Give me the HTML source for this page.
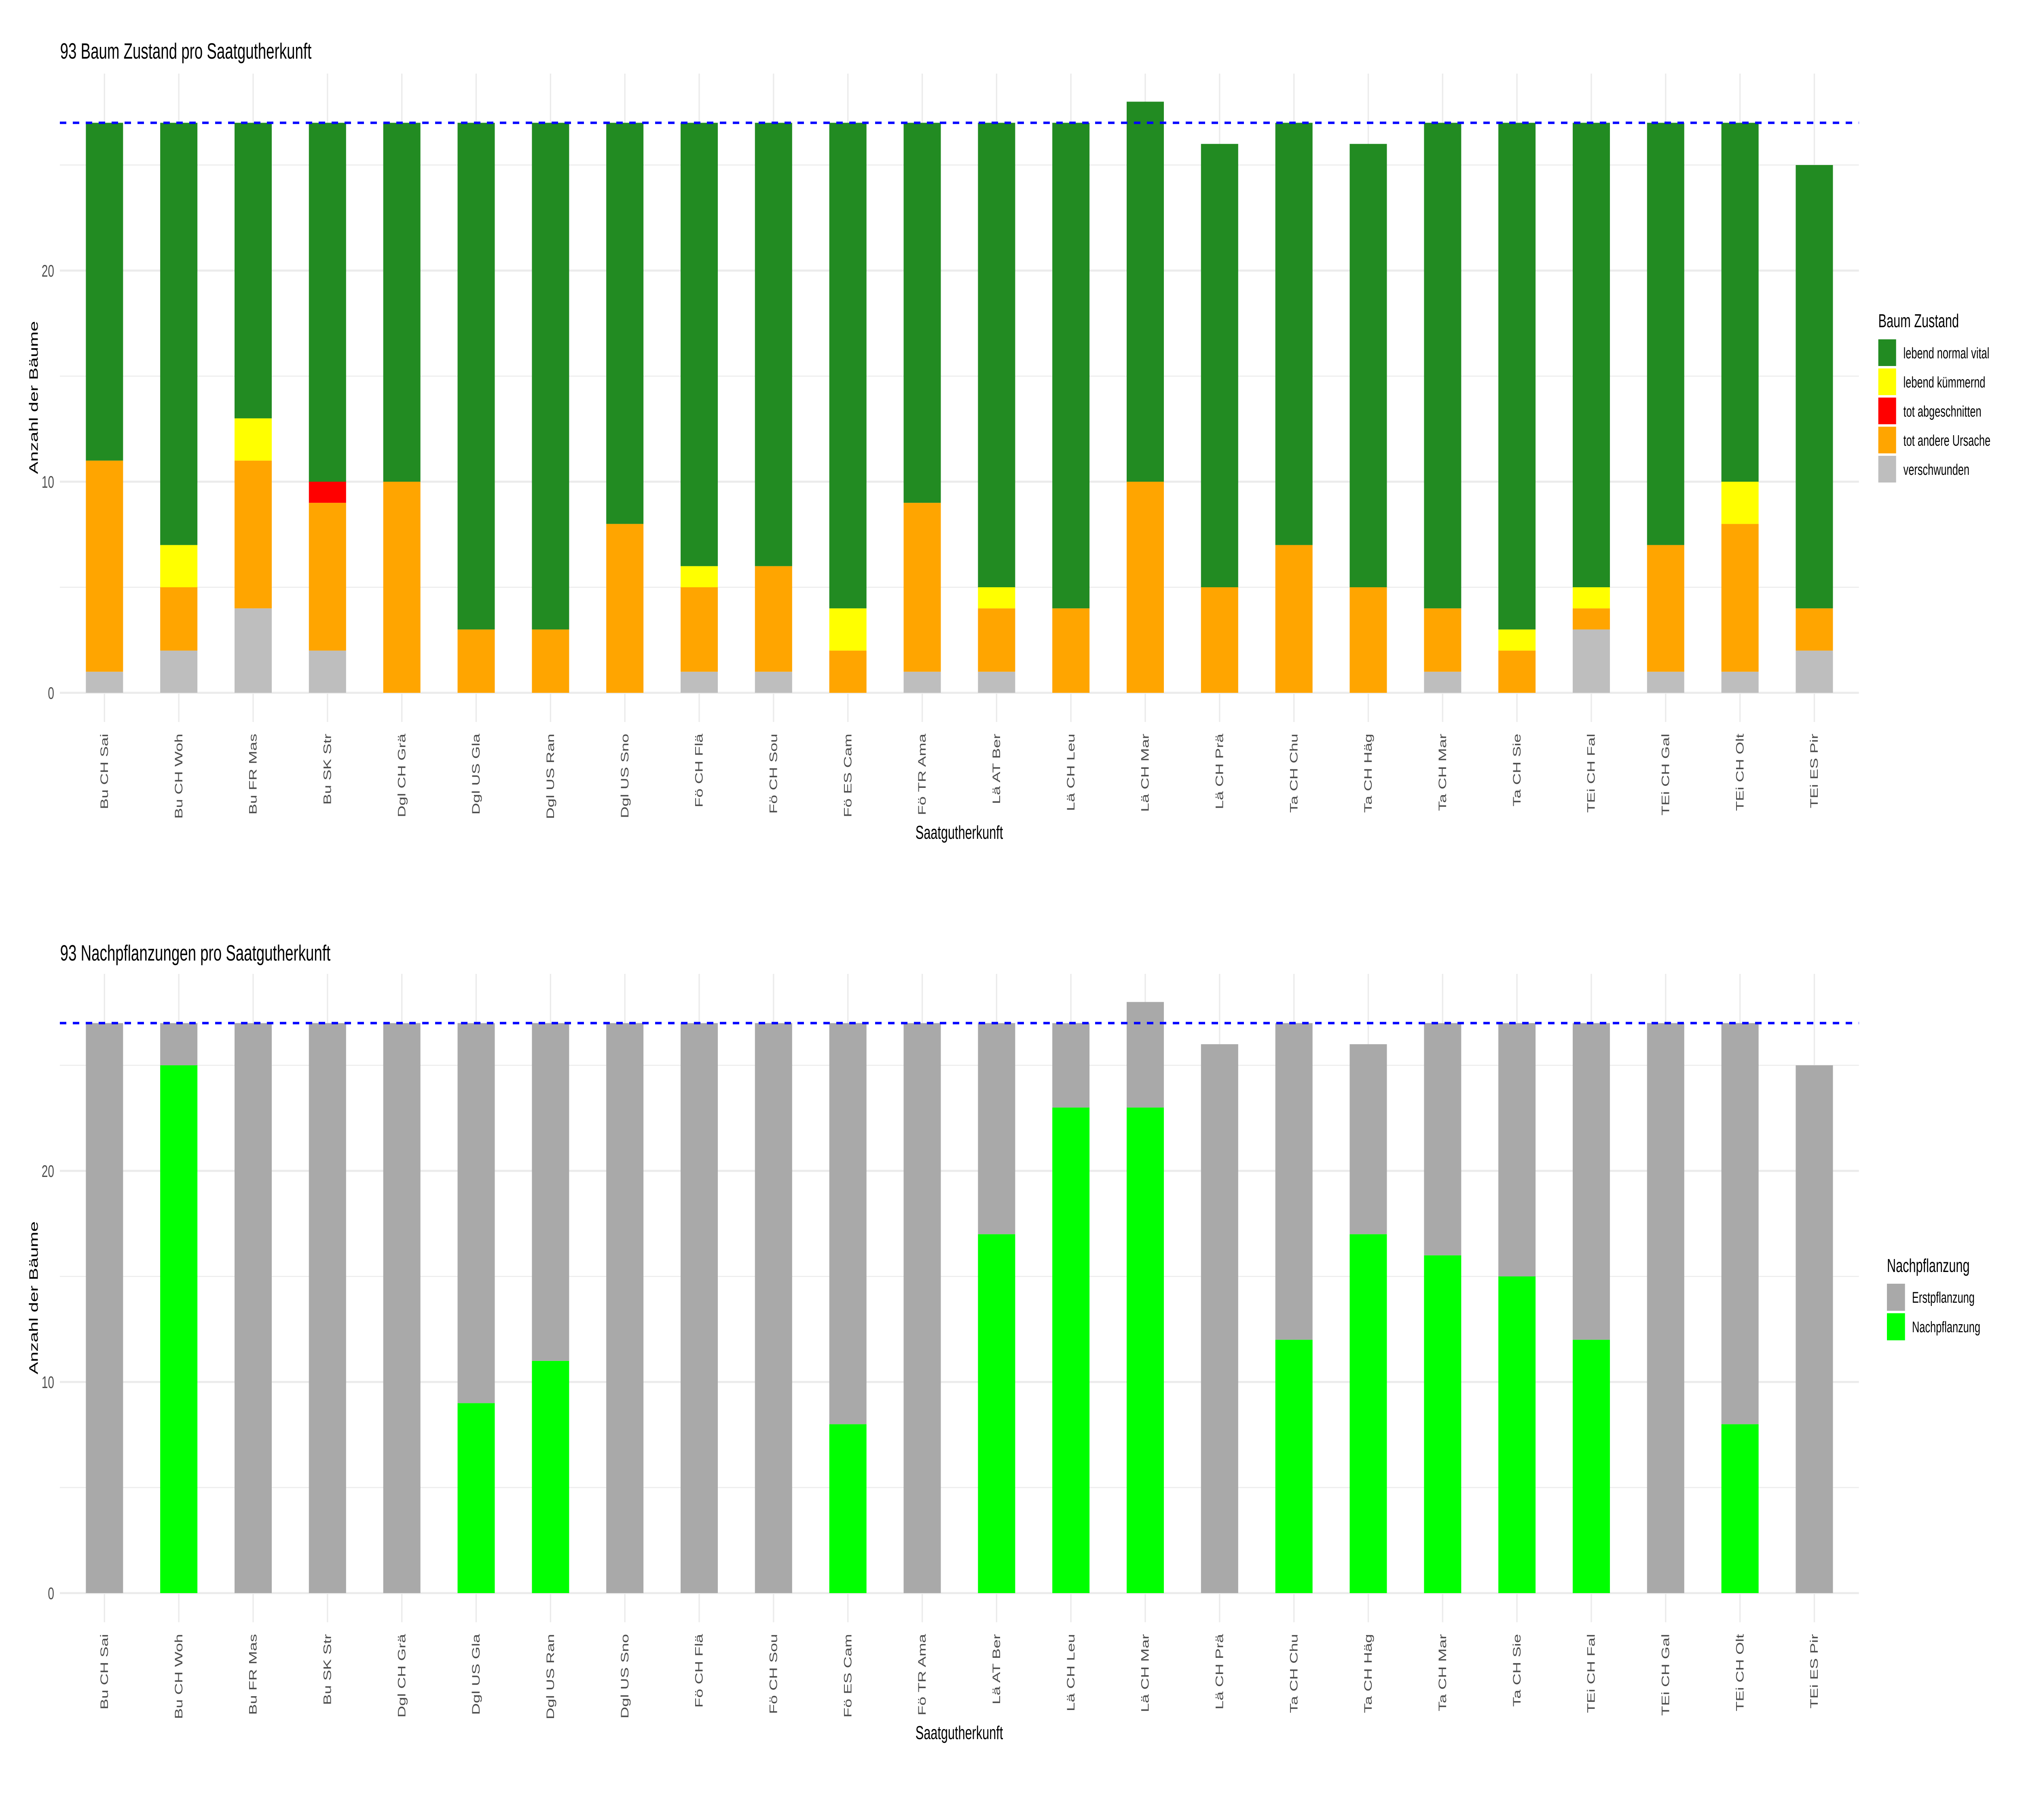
<!DOCTYPE html>
<html><head><meta charset="utf-8"><style>
html,body{margin:0;padding:0;background:#fff;width:100%;height:100%;overflow:hidden}
svg{display:block;width:100vw;height:100vh}
text{font-family:"Liberation Sans",Arial,sans-serif}
</style></head><body>
<svg viewBox="0 0 7500 4500" preserveAspectRatio="none" xmlns="http://www.w3.org/2000/svg">
<defs>
<g id="grid">
  <g stroke="#EBEBEB" stroke-width="2.5">
    <line x1="222" x2="6895" y1="1452" y2="1452"/>
    <line x1="222" x2="6895" y1="930" y2="930"/>
    <line x1="222" x2="6895" y1="408" y2="408"/>
  </g>
  <g stroke="#EBEBEB" stroke-width="5">
    <line x1="222" x2="6895" y1="1713" y2="1713"/>
    <line x1="222" x2="6895" y1="1191" y2="1191"/>
    <line x1="222" x2="6895" y1="669" y2="669"/>
    <line x1="387.5" x2="387.5" y1="182" y2="1785"/>
    <line x1="663.2" x2="663.2" y1="182" y2="1785"/>
    <line x1="939" x2="939" y1="182" y2="1785"/>
    <line x1="1214.7" x2="1214.7" y1="182" y2="1785"/>
    <line x1="1490.5" x2="1490.5" y1="182" y2="1785"/>
    <line x1="1766.2" x2="1766.2" y1="182" y2="1785"/>
    <line x1="2042" x2="2042" y1="182" y2="1785"/>
    <line x1="2317.7" x2="2317.7" y1="182" y2="1785"/>
    <line x1="2593.5" x2="2593.5" y1="182" y2="1785"/>
    <line x1="2869.2" x2="2869.2" y1="182" y2="1785"/>
    <line x1="3145" x2="3145" y1="182" y2="1785"/>
    <line x1="3420.7" x2="3420.7" y1="182" y2="1785"/>
    <line x1="3696.5" x2="3696.5" y1="182" y2="1785"/>
    <line x1="3972.2" x2="3972.2" y1="182" y2="1785"/>
    <line x1="4248" x2="4248" y1="182" y2="1785"/>
    <line x1="4523.7" x2="4523.7" y1="182" y2="1785"/>
    <line x1="4799.5" x2="4799.5" y1="182" y2="1785"/>
    <line x1="5075.2" x2="5075.2" y1="182" y2="1785"/>
    <line x1="5351" x2="5351" y1="182" y2="1785"/>
    <line x1="5626.7" x2="5626.7" y1="182" y2="1785"/>
    <line x1="5902.5" x2="5902.5" y1="182" y2="1785"/>
    <line x1="6178.2" x2="6178.2" y1="182" y2="1785"/>
    <line x1="6454" x2="6454" y1="182" y2="1785"/>
    <line x1="6729.7" x2="6729.7" y1="182" y2="1785"/>
  </g>
</g>
<g id="axes">
  <g font-size="42" fill="#4D4D4D" text-anchor="end">
    <text x="201" y="1728">0</text>
    <text x="201" y="1206">10</text>
    <text x="201" y="684">20</text>
  </g>
  <g font-size="40" fill="#4D4D4D" text-anchor="end" dominant-baseline="central">
    <text transform="translate(387.5,1814) rotate(-90)">Bu CH Sai</text>
    <text transform="translate(663.2,1814) rotate(-90)">Bu CH Woh</text>
    <text transform="translate(939,1814) rotate(-90)">Bu FR Mas</text>
    <text transform="translate(1214.7,1814) rotate(-90)">Bu SK Str</text>
    <text transform="translate(1490.5,1814) rotate(-90)">Dgl CH Grä</text>
    <text transform="translate(1766.2,1814) rotate(-90)">Dgl US Gla</text>
    <text transform="translate(2042,1814) rotate(-90)">Dgl US Ran</text>
    <text transform="translate(2317.7,1814) rotate(-90)">Dgl US Sno</text>
    <text transform="translate(2593.5,1814) rotate(-90)">Fö CH Flä</text>
    <text transform="translate(2869.2,1814) rotate(-90)">Fö CH Sou</text>
    <text transform="translate(3145,1814) rotate(-90)">Fö ES Cam</text>
    <text transform="translate(3420.7,1814) rotate(-90)">Fö TR Ama</text>
    <text transform="translate(3696.5,1814) rotate(-90)">Lä AT Ber</text>
    <text transform="translate(3972.2,1814) rotate(-90)">Lä CH Leu</text>
    <text transform="translate(4248,1814) rotate(-90)">Lä CH Mar</text>
    <text transform="translate(4523.7,1814) rotate(-90)">Lä CH Prä</text>
    <text transform="translate(4799.5,1814) rotate(-90)">Ta CH Chu</text>
    <text transform="translate(5075.2,1814) rotate(-90)">Ta CH Häg</text>
    <text transform="translate(5351,1814) rotate(-90)">Ta CH Mar</text>
    <text transform="translate(5626.7,1814) rotate(-90)">Ta CH Sie</text>
    <text transform="translate(5902.5,1814) rotate(-90)">TEi CH Fal</text>
    <text transform="translate(6178.2,1814) rotate(-90)">TEi CH Gal</text>
    <text transform="translate(6454,1814) rotate(-90)">TEi CH Olt</text>
    <text transform="translate(6729.7,1814) rotate(-90)">TEi ES Pir</text>
  </g>
  <text x="3558" y="2074" font-size="46" text-anchor="middle" fill="#000">Saatgutherkunft</text>
  <text transform="translate(140,983) rotate(-90)" font-size="46" text-anchor="middle" fill="#000">Anzahl der Bäume</text>
</g>
</defs>

<use href="#grid"/>
<g transform="translate(0,1713) scale(1,-52.2)">
<rect x="318.5" y="0" width="138" height="1" fill="#BEBEBE"/><rect x="318.5" y="1" width="138" height="10" fill="#FFA500"/><rect x="318.5" y="11" width="138" height="16" fill="#228B22"/>
<rect x="594.2" y="0" width="138" height="2" fill="#BEBEBE"/><rect x="594.2" y="2" width="138" height="3" fill="#FFA500"/><rect x="594.2" y="5" width="138" height="2" fill="#FFFF00"/><rect x="594.2" y="7" width="138" height="20" fill="#228B22"/>
<rect x="870" y="0" width="138" height="4" fill="#BEBEBE"/><rect x="870" y="4" width="138" height="7" fill="#FFA500"/><rect x="870" y="11" width="138" height="2" fill="#FFFF00"/><rect x="870" y="13" width="138" height="14" fill="#228B22"/>
<rect x="1145.7" y="0" width="138" height="2" fill="#BEBEBE"/><rect x="1145.7" y="2" width="138" height="7" fill="#FFA500"/><rect x="1145.7" y="9" width="138" height="1" fill="#FF0000"/><rect x="1145.7" y="10" width="138" height="17" fill="#228B22"/>
<rect x="1421.5" y="0" width="138" height="10" fill="#FFA500"/><rect x="1421.5" y="10" width="138" height="17" fill="#228B22"/>
<rect x="1697.2" y="0" width="138" height="3" fill="#FFA500"/><rect x="1697.2" y="3" width="138" height="24" fill="#228B22"/>
<rect x="1973" y="0" width="138" height="3" fill="#FFA500"/><rect x="1973" y="3" width="138" height="24" fill="#228B22"/>
<rect x="2248.7" y="0" width="138" height="8" fill="#FFA500"/><rect x="2248.7" y="8" width="138" height="19" fill="#228B22"/>
<rect x="2524.5" y="0" width="138" height="1" fill="#BEBEBE"/><rect x="2524.5" y="1" width="138" height="4" fill="#FFA500"/><rect x="2524.5" y="5" width="138" height="1" fill="#FFFF00"/><rect x="2524.5" y="6" width="138" height="21" fill="#228B22"/>
<rect x="2800.2" y="0" width="138" height="1" fill="#BEBEBE"/><rect x="2800.2" y="1" width="138" height="5" fill="#FFA500"/><rect x="2800.2" y="6" width="138" height="21" fill="#228B22"/>
<rect x="3076" y="0" width="138" height="2" fill="#FFA500"/><rect x="3076" y="2" width="138" height="2" fill="#FFFF00"/><rect x="3076" y="4" width="138" height="23" fill="#228B22"/>
<rect x="3351.7" y="0" width="138" height="1" fill="#BEBEBE"/><rect x="3351.7" y="1" width="138" height="8" fill="#FFA500"/><rect x="3351.7" y="9" width="138" height="18" fill="#228B22"/>
<rect x="3627.5" y="0" width="138" height="1" fill="#BEBEBE"/><rect x="3627.5" y="1" width="138" height="3" fill="#FFA500"/><rect x="3627.5" y="4" width="138" height="1" fill="#FFFF00"/><rect x="3627.5" y="5" width="138" height="22" fill="#228B22"/>
<rect x="3903.2" y="0" width="138" height="4" fill="#FFA500"/><rect x="3903.2" y="4" width="138" height="23" fill="#228B22"/>
<rect x="4179" y="0" width="138" height="10" fill="#FFA500"/><rect x="4179" y="10" width="138" height="18" fill="#228B22"/>
<rect x="4454.7" y="0" width="138" height="5" fill="#FFA500"/><rect x="4454.7" y="5" width="138" height="21" fill="#228B22"/>
<rect x="4730.5" y="0" width="138" height="7" fill="#FFA500"/><rect x="4730.5" y="7" width="138" height="20" fill="#228B22"/>
<rect x="5006.2" y="0" width="138" height="5" fill="#FFA500"/><rect x="5006.2" y="5" width="138" height="21" fill="#228B22"/>
<rect x="5282" y="0" width="138" height="1" fill="#BEBEBE"/><rect x="5282" y="1" width="138" height="3" fill="#FFA500"/><rect x="5282" y="4" width="138" height="23" fill="#228B22"/>
<rect x="5557.7" y="0" width="138" height="2" fill="#FFA500"/><rect x="5557.7" y="2" width="138" height="1" fill="#FFFF00"/><rect x="5557.7" y="3" width="138" height="24" fill="#228B22"/>
<rect x="5833.5" y="0" width="138" height="3" fill="#BEBEBE"/><rect x="5833.5" y="3" width="138" height="1" fill="#FFA500"/><rect x="5833.5" y="4" width="138" height="1" fill="#FFFF00"/><rect x="5833.5" y="5" width="138" height="22" fill="#228B22"/>
<rect x="6109.2" y="0" width="138" height="1" fill="#BEBEBE"/><rect x="6109.2" y="1" width="138" height="6" fill="#FFA500"/><rect x="6109.2" y="7" width="138" height="20" fill="#228B22"/>
<rect x="6385" y="0" width="138" height="1" fill="#BEBEBE"/><rect x="6385" y="1" width="138" height="7" fill="#FFA500"/><rect x="6385" y="8" width="138" height="2" fill="#FFFF00"/><rect x="6385" y="10" width="138" height="17" fill="#228B22"/>
<rect x="6660.7" y="0" width="138" height="2" fill="#BEBEBE"/><rect x="6660.7" y="2" width="138" height="2" fill="#FFA500"/><rect x="6660.7" y="4" width="138" height="21" fill="#228B22"/>
</g>
<line x1="222" x2="6895" y1="303.6" y2="303.6" stroke="#0000FF" stroke-width="6" stroke-dasharray="24 24"/>
<use href="#axes"/>
<text x="223" y="145" font-size="55" fill="#000">93 Baum Zustand pro Saatgutherkunft</text>

<text x="6967" y="809" font-size="46" fill="#000">Baum Zustand</text>
<rect x="6967" y="839" width="66" height="66" fill="#228B22"/>
<rect x="6967" y="911" width="66" height="66" fill="#FFFF00"/>
<rect x="6967" y="983" width="66" height="66" fill="#FF0000"/>
<rect x="6967" y="1055" width="66" height="66" fill="#FFA500"/>
<rect x="6967" y="1127" width="66" height="66" fill="#BEBEBE"/>
<g font-size="38" fill="#000">
<text x="7060" y="886">lebend normal vital</text>
<text x="7060" y="958">lebend kümmernd</text>
<text x="7060" y="1030">tot abgeschnitten</text>
<text x="7060" y="1102">tot andere Ursache</text>
<text x="7060" y="1174">verschwunden</text>
</g>

<g transform="translate(0,2226)">
<use href="#grid"/>
<g transform="translate(0,1713) scale(1,-52.2)">
<rect x="318.5" y="0" width="138" height="27" fill="#A9A9A9"/>
<rect x="594.2" y="0" width="138" height="25" fill="#00FF00"/><rect x="594.2" y="25" width="138" height="2" fill="#A9A9A9"/>
<rect x="870" y="0" width="138" height="27" fill="#A9A9A9"/>
<rect x="1145.7" y="0" width="138" height="27" fill="#A9A9A9"/>
<rect x="1421.5" y="0" width="138" height="27" fill="#A9A9A9"/>
<rect x="1697.2" y="0" width="138" height="9" fill="#00FF00"/><rect x="1697.2" y="9" width="138" height="18" fill="#A9A9A9"/>
<rect x="1973" y="0" width="138" height="11" fill="#00FF00"/><rect x="1973" y="11" width="138" height="16" fill="#A9A9A9"/>
<rect x="2248.7" y="0" width="138" height="27" fill="#A9A9A9"/>
<rect x="2524.5" y="0" width="138" height="27" fill="#A9A9A9"/>
<rect x="2800.2" y="0" width="138" height="27" fill="#A9A9A9"/>
<rect x="3076" y="0" width="138" height="8" fill="#00FF00"/><rect x="3076" y="8" width="138" height="19" fill="#A9A9A9"/>
<rect x="3351.7" y="0" width="138" height="27" fill="#A9A9A9"/>
<rect x="3627.5" y="0" width="138" height="17" fill="#00FF00"/><rect x="3627.5" y="17" width="138" height="10" fill="#A9A9A9"/>
<rect x="3903.2" y="0" width="138" height="23" fill="#00FF00"/><rect x="3903.2" y="23" width="138" height="4" fill="#A9A9A9"/>
<rect x="4179" y="0" width="138" height="23" fill="#00FF00"/><rect x="4179" y="23" width="138" height="5" fill="#A9A9A9"/>
<rect x="4454.7" y="0" width="138" height="26" fill="#A9A9A9"/>
<rect x="4730.5" y="0" width="138" height="12" fill="#00FF00"/><rect x="4730.5" y="12" width="138" height="15" fill="#A9A9A9"/>
<rect x="5006.2" y="0" width="138" height="17" fill="#00FF00"/><rect x="5006.2" y="17" width="138" height="9" fill="#A9A9A9"/>
<rect x="5282" y="0" width="138" height="16" fill="#00FF00"/><rect x="5282" y="16" width="138" height="11" fill="#A9A9A9"/>
<rect x="5557.7" y="0" width="138" height="15" fill="#00FF00"/><rect x="5557.7" y="15" width="138" height="12" fill="#A9A9A9"/>
<rect x="5833.5" y="0" width="138" height="12" fill="#00FF00"/><rect x="5833.5" y="12" width="138" height="15" fill="#A9A9A9"/>
<rect x="6109.2" y="0" width="138" height="27" fill="#A9A9A9"/>
<rect x="6385" y="0" width="138" height="8" fill="#00FF00"/><rect x="6385" y="8" width="138" height="19" fill="#A9A9A9"/>
<rect x="6660.7" y="0" width="138" height="25" fill="#A9A9A9"/>
</g>
<line x1="222" x2="6895" y1="303.6" y2="303.6" stroke="#0000FF" stroke-width="6" stroke-dasharray="24 24"/>
<use href="#axes"/>
<text x="223" y="149" font-size="55" fill="#000">93 Nachpflanzungen pro Saatgutherkunft</text>
</g>

<text x="6999" y="3145" font-size="46" fill="#000">Nachpflanzung</text>
<rect x="6999" y="3174" width="67" height="67" fill="#A9A9A9"/>
<rect x="6999" y="3247" width="67" height="67" fill="#00FF00"/>
<g font-size="38" fill="#000">
<text x="7092" y="3221">Erstpflanzung</text>
<text x="7092" y="3294">Nachpflanzung</text>
</g>
</svg>
</body></html>
